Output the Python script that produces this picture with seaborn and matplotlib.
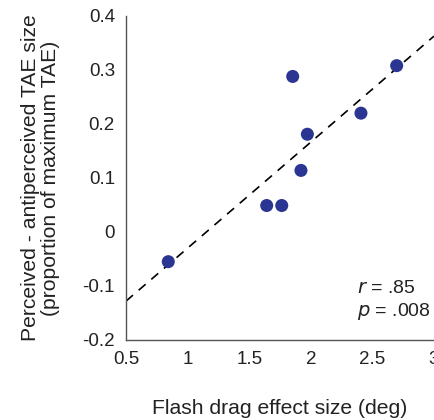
import numpy as np
import pandas as pd
import matplotlib
matplotlib.use("Agg")
import matplotlib.pyplot as plt
import seaborn as sns

flash_drag = [0.843, 1.642, 1.764, 1.853, 1.920, 1.972, 2.407, 2.697]
tae_diff = [-0.055, 0.049, 0.049, 0.288, 0.114, 0.181, 0.220, 0.308]
xticks = [0.5, 1, 1.5, 2, 2.5, 3]
xticklabels = ["0.5", "1", "1.5", "2", "2.5", "3"]
yticks = [-0.2, -0.1, 0, 0.1, 0.2, 0.3, 0.4]
yticklabels = ["-0.2", "-0.1", "0", "0.1", "0.2", "0.3", "0.4"]

df = pd.DataFrame({"x": flash_drag, "y": tae_diff})

sns.set_style("white")
plt.rcParams['font.family'] = ['Liberation Sans', 'DejaVu Sans']

fig = plt.figure(figsize=(4.35, 4.2), dpi=100)
ax = fig.add_axes([0.2897, 0.1905, 0.708, 0.7715])
ax.set_xlim(0.5, 3)
ax.set_ylim(-0.2, 0.4)

slope, intercept = np.polyfit(flash_drag, tae_diff, 1)
xl = np.array([0.5, 3.0])
ax.plot(xl, intercept + slope * xl, color="black", lw=1.2, dashes=(5.5, 4.5), zorder=2)

sns.scatterplot(data=df, x="x", y="y", ax=ax, color="#2b3592", s=88,
                edgecolor="none", zorder=3, clip_on=False)

ax.set_xticks(xticks)
ax.set_xticklabels(xticklabels)
ax.set_yticks(yticks)
ax.set_yticklabels(yticklabels)
ax.tick_params(axis="both", direction="in", length=3, width=0.8, colors="#555555",
               labelcolor="#222222", labelsize=13.5)
ax.tick_params(axis="x", pad=8)
ax.tick_params(axis="y", pad=8)

for s in ["top", "right"]:
    ax.spines[s].set_visible(False)
for s in ["left", "bottom"]:
    ax.spines[s].set_color("#555555")
    ax.spines[s].set_linewidth(1.0)

ax.set_xlabel("Flash drag effect size (deg)", fontsize=15.2, color="#222222", labelpad=22)
ax.set_ylabel("Perceived - antiperceived TAE size\n(proportion of maximum TAE)",
              fontsize=15.2, color="#222222", labelpad=16, linespacing=1.1)

ax.text(2.375, -0.104, r"$\it{r}$ = .85", fontsize=14, color="#222222", va="center")
ax.text(2.375, -0.148, r"$\it{p}$ = .008", fontsize=14, color="#222222", va="center")

fig.savefig("out.png", dpi=100)
